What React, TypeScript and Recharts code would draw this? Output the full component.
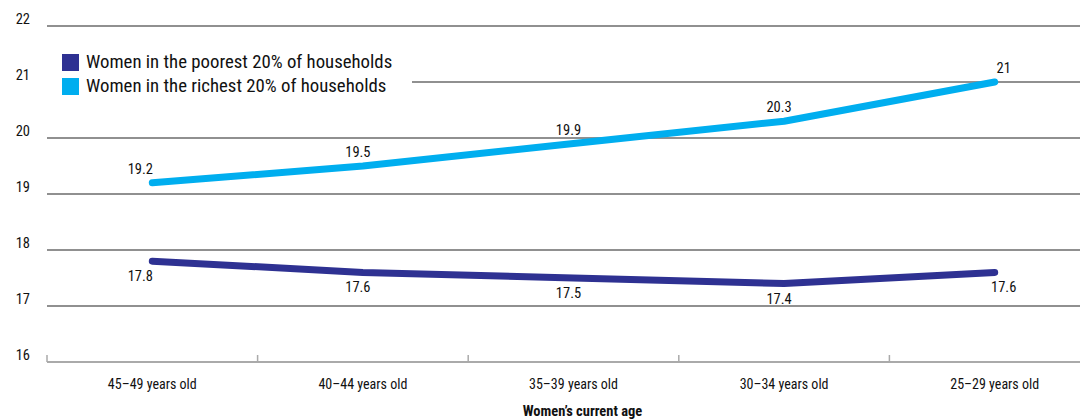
import { LineChart, Line, XAxis, YAxis, CartesianGrid, Legend, LabelList } from 'recharts';

const categories = ['45–49 years old', '40–44 years old', '35–39 years old', '30–34 years old', '25–29 years old'];
const poorest = [17.8, 17.6, 17.5, 17.4, 17.6];
const richest = [19.2, 19.5, 19.9, 20.3, 21];
const yTicks = [16, 17, 18, 19, 20, 21, 22];

const series = [
  { key: 'poorest', name: 'Women in the poorest 20% of households', color: '#2E3192' },
  { key: 'richest', name: 'Women in the richest 20% of households', color: '#00AEEF' },
];

const data = categories.map((age, i) => ({ age, poorest: poorest[i], richest: richest[i] }));

const FONT = '"Liberation Sans Narrow", "Roboto Condensed", "DejaVu Sans Condensed", "Arial Narrow", sans-serif';
const W = 1100;
const H = 419;
const LEFT = 47;
const BAND = (W - LEFT) / categories.length;

const YTick = ({ y, payload }: any) => (
  <text x={30} y={y - 2} textAnchor="end" fontSize={14.5} fontFamily={FONT} fill="#111">
    {payload.value}
  </text>
);

const XTick = ({ x, y, payload, index }: any) => (
  <g>
    <line x1={x - BAND / 2} x2={x - BAND / 2} y1={y} y2={y - 7} stroke="#aaa" strokeWidth={1.5} />
    {index === categories.length - 1 && (
      <line x1={x + BAND / 2} x2={x + BAND / 2} y1={y} y2={y - 7} stroke="#aaa" strokeWidth={1.5} />
    )}
    <text x={x} y={y + 27} textAnchor="middle" fontSize={14} fontFamily={FONT} fill="#111">
      {payload.value}
    </text>
  </g>
);

const shiftX = (index: number) => (index === 0 ? -12 : index === categories.length - 1 ? 9 : -5);

const makeLabel = (below: boolean) => (props: any) => {
  const { x, y, value, index } = props;
  return (
    <text
      x={x + shiftX(index)}
      y={below ? y + 20 : y - 9}
      textAnchor="middle"
      fontSize={14.5}
      fontFamily={FONT}
      fill="#111"
    >
      {value}
    </text>
  );
};

const AxisTitle = ({ viewBox }: any) => (
  <text
    x={viewBox.x + viewBox.width / 2 + 9}
    y={viewBox.y + viewBox.height - 3}
    textAnchor="middle"
    fontSize={14.5}
    fontWeight="bold"
    fontFamily={FONT}
    fill="#111"
  >
    Women’s current age
  </text>
);

const LegendBox = () => (
  <div
    style={{
      fontFamily: FONT,
      fontSize: 18.8,
      color: '#111',
      lineHeight: '24px',
      background: '#fff',
      padding: '2px 20px 2px 15px',
    }}
  >
    {series.map((s) => (
      <div key={s.key} style={{ display: 'flex', alignItems: 'center', whiteSpace: 'nowrap' }}>
        <span style={{ width: 17, height: 17, background: s.color, marginRight: 7, display: 'inline-block' }} />
        {s.name}
      </div>
    ))}
  </div>
);

export default function App() {
  return (
    <div style={{ position: 'absolute', left: 0, top: 0, width: 1080, height: H, overflow: 'hidden', background: '#fff' }}>
      <LineChart width={W} height={H} data={data} margin={{ top: 26, right: 0, bottom: 0, left: 0 }}>
        <CartesianGrid horizontal vertical={false} stroke="#222" strokeWidth={1.2} />
        <XAxis
          dataKey="age"
          height={57}
          padding={{ left: BAND / 2, right: BAND / 2 }}
          tickSize={0}
          tickMargin={0}
          tickLine={false}
          axisLine={{ stroke: '#aaa', strokeWidth: 2 }}
          tick={<XTick />}
          interval={0}
          label={<AxisTitle />}
        />
        <YAxis
          width={LEFT}
          domain={[16, 22]}
          ticks={yTicks}
          axisLine={false}
          tickLine={false}
          tick={<YTick />}
          interval={0}
        />
        <Legend
          layout="vertical"
          align="center"
          verticalAlign="middle"
          content={<LegendBox />}
          wrapperStyle={{ position: 'absolute', left: 47, top: 48, width: 'auto' }}
        />
        {series.map((s) => (
          <Line
            key={s.key}
            dataKey={s.key}
            name={s.name}
            type="linear"
            stroke={s.color}
            strokeWidth={7}
            strokeLinecap="round"
            strokeLinejoin="round"
            dot={false}
            activeDot={false}
            isAnimationActive={false}
          >
            <LabelList dataKey={s.key} content={makeLabel(s.key === 'poorest')} />
          </Line>
        ))}
      </LineChart>
    </div>
  );
}
